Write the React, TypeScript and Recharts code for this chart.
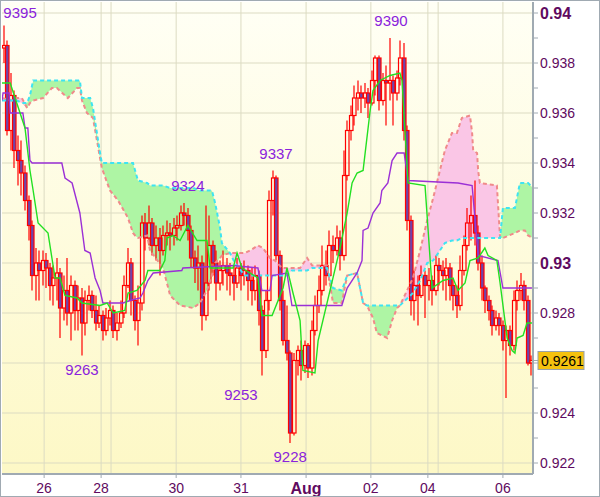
import { ComposedChart, Bar, Line, Area, Scatter, XAxis, YAxis, CartesianGrid } from 'recharts';

// hourly candles, prices in pips (9395 = 0.9395): [open, high, low, close]
const ohlc: number[][] = [
  [9386, 9395, 9380, 9387], [9387, 9389, 9351, 9353], [9353, 9376, 9345, 9367], [9367, 9369, 9338, 9345],
  [9345, 9351, 9331, 9341], [9341, 9349, 9327, 9336], [9336, 9339, 9321, 9325], [9325, 9327, 9309, 9315],
  [9315, 9317, 9289, 9295], [9295, 9306, 9285, 9300], [9300, 9305, 9285, 9297], [9297, 9305, 9291, 9301],
  [9301, 9304, 9290, 9298], [9298, 9300, 9285, 9291], [9291, 9299, 9283, 9294], [9294, 9302, 9285, 9296],
  [9296, 9298, 9270, 9282], [9282, 9295, 9277, 9289], [9289, 9302, 9275, 9280], [9280, 9295, 9269, 9291],
  [9291, 9293, 9273, 9281], [9281, 9291, 9273, 9286], [9286, 9290, 9263, 9276], [9276, 9289, 9271, 9285],
  [9285, 9291, 9281, 9287], [9287, 9289, 9278, 9281], [9281, 9287, 9273, 9276], [9276, 9283, 9274, 9279],
  [9279, 9281, 9269, 9273], [9273, 9282, 9271, 9278], [9278, 9285, 9275, 9281], [9281, 9283, 9270, 9273],
  [9273, 9280, 9269, 9276], [9276, 9285, 9274, 9280], [9280, 9295, 9278, 9291], [9291, 9306, 9290, 9300],
  [9300, 9302, 9279, 9285], [9285, 9287, 9273, 9277], [9277, 9291, 9267, 9284], [9284, 9319, 9281, 9316],
  [9316, 9320, 9305, 9310], [9310, 9323, 9307, 9316], [9316, 9318, 9303, 9307], [9307, 9315, 9301, 9310],
  [9310, 9314, 9295, 9305], [9305, 9315, 9303, 9311], [9311, 9317, 9307, 9312], [9312, 9316, 9305, 9311],
  [9311, 9318, 9307, 9314], [9314, 9319, 9309, 9315], [9315, 9323, 9313, 9320], [9320, 9324, 9315, 9319],
  [9319, 9322, 9309, 9313], [9313, 9315, 9298, 9302], [9302, 9305, 9292, 9298], [9298, 9307, 9289, 9300],
  [9300, 9303, 9273, 9279], [9279, 9323, 9277, 9292], [9292, 9319, 9289, 9307], [9307, 9309, 9295, 9300],
  [9300, 9305, 9285, 9292], [9292, 9301, 9289, 9297], [9297, 9305, 9291, 9299], [9299, 9302, 9289, 9296],
  [9296, 9300, 9287, 9295], [9295, 9299, 9285, 9292], [9292, 9302, 9290, 9298], [9298, 9300, 9289, 9295],
  [9295, 9301, 9291, 9297], [9297, 9299, 9285, 9293], [9293, 9298, 9283, 9289], [9289, 9299, 9285, 9295],
  [9295, 9297, 9275, 9281], [9281, 9283, 9255, 9265], [9265, 9289, 9262, 9285], [9285, 9329, 9281, 9325],
  [9325, 9337, 9319, 9334], [9334, 9335, 9301, 9303], [9303, 9305, 9281, 9285], [9285, 9289, 9267, 9269],
  [9269, 9283, 9261, 9264], [9264, 9265, 9228, 9232], [9232, 9264, 9231, 9261], [9261, 9267, 9255, 9265],
  [9265, 9269, 9253, 9259], [9259, 9269, 9256, 9267], [9267, 9268, 9254, 9258], [9258, 9277, 9255, 9273],
  [9273, 9287, 9271, 9283], [9283, 9295, 9280, 9289], [9289, 9307, 9287, 9299], [9299, 9305, 9291, 9295],
  [9295, 9313, 9293, 9307], [9307, 9311, 9300, 9305], [9305, 9315, 9303, 9310], [9310, 9313, 9297, 9303],
  [9303, 9345, 9301, 9335], [9335, 9357, 9333, 9353], [9353, 9363, 9349, 9359], [9359, 9371, 9355, 9366],
  [9366, 9373, 9361, 9368], [9368, 9371, 9360, 9366], [9366, 9372, 9362, 9368], [9368, 9370, 9358, 9364],
  [9364, 9377, 9363, 9373], [9373, 9383, 9367, 9382], [9382, 9383, 9361, 9365], [9365, 9376, 9363, 9373],
  [9373, 9379, 9355, 9372], [9372, 9390, 9365, 9373], [9373, 9375, 9355, 9368], [9368, 9377, 9365, 9374],
  [9374, 9389, 9371, 9382], [9382, 9388, 9349, 9353], [9353, 9355, 9313, 9317], [9317, 9319, 9279, 9285],
  [9285, 9297, 9277, 9291], [9291, 9295, 9275, 9287], [9287, 9299, 9286, 9295], [9295, 9297, 9278, 9291],
  [9291, 9298, 9285, 9293], [9293, 9295, 9283, 9289], [9289, 9303, 9287, 9299], [9299, 9302, 9291, 9297],
  [9297, 9301, 9289, 9295], [9295, 9302, 9285, 9298], [9298, 9300, 9285, 9291], [9291, 9294, 9281, 9287],
  [9287, 9291, 9278, 9283], [9283, 9303, 9281, 9297], [9297, 9311, 9295, 9307], [9307, 9322, 9305, 9316],
  [9316, 9327, 9309, 9319], [9319, 9333, 9307, 9312], [9312, 9315, 9297, 9300], [9300, 9303, 9285, 9290],
  [9290, 9291, 9280, 9285], [9285, 9287, 9277, 9281], [9281, 9283, 9271, 9275], [9275, 9281, 9273, 9278],
  [9278, 9280, 9271, 9275], [9275, 9277, 9265, 9269], [9269, 9275, 9246, 9273], [9273, 9275, 9263, 9267],
  [9267, 9289, 9265, 9285], [9285, 9293, 9281, 9289], [9289, 9296, 9285, 9291], [9291, 9293, 9281, 9285],
  [9285, 9287, 9259, 9260], [9260, 9263, 9255, 9261],
];

// tenkan-sen / kijun-sen as [bar position, pips]
const tenkan: number[][] = [
  [-0.5, 9372], [1.8, 9372], [6.0, 9354], [7.4, 9337], [8.3, 9329], [9.7, 9316], [12.5, 9312], [13.6, 9302],
  [14.5, 9294], [15.9, 9294], [17.3, 9287], [20.7, 9286], [22.1, 9284], [27.2, 9283], [29.2, 9284], [30.9, 9280],
  [34.2, 9281], [35.1, 9288], [37.6, 9289], [39.9, 9293], [40.7, 9297], [44.1, 9297], [45.5, 9301], [46.1, 9310],
  [47.8, 9311], [49.8, 9309], [52.0, 9315], [54.6, 9309], [57.4, 9309], [58.3, 9298], [64.8, 9298], [65.9, 9304],
  [67.3, 9298], [71.8, 9294], [72.9, 9279], [75.8, 9279], [78.9, 9290], [80.0, 9298], [81.7, 9288], [83.7, 9277],
  [84.5, 9257], [87.9, 9256], [88.8, 9269], [95.0, 9306], [97.0, 9320], [98.4, 9332], [99.8, 9336], [101.5, 9337],
  [103.5, 9361], [104.3, 9369], [106.3, 9373], [109.1, 9375], [111.9, 9376], [112.5, 9373], [114.2, 9332],
  [119.0, 9331], [121.0, 9290], [124.1, 9293], [126.9, 9294], [128.3, 9289], [130.3, 9292], [131.7, 9301],
  [134.0, 9302], [135.9, 9306], [136.8, 9303], [139.3, 9301], [140.2, 9292], [142.2, 9270], [143.6, 9265],
  [144.4, 9264], [145.0, 9270], [146.7, 9271], [147.8, 9276], [149.2, 9276],
];

const kijun: number[][] = [
  [-0.5, 9365], [-0.2, 9368], [1.5, 9368], [1.8, 9360], [5.4, 9360], [6.0, 9354], [6.8, 9354], [7.4, 9341],
  [8.0, 9340], [16.4, 9340], [17.3, 9334], [19.3, 9332], [21.5, 9320], [22.9, 9305], [24.4, 9304], [25.8, 9294],
  [27.2, 9289], [28.0, 9284], [33.7, 9284], [35.7, 9285], [38.5, 9286], [39.3, 9288], [40.7, 9293], [42.2, 9296],
  [50.3, 9297], [50.6, 9298], [64.8, 9299], [71.8, 9298], [72.9, 9289], [75.2, 9289], [75.8, 9295], [80.0, 9296],
  [81.4, 9283], [95.5, 9283], [97.0, 9290], [99.8, 9296], [101.2, 9301], [101.5, 9313], [102.9, 9314],
  [104.3, 9320], [106.3, 9324], [106.8, 9329], [108.5, 9332], [109.7, 9341], [111.1, 9344], [113.1, 9344],
  [114.2, 9333], [128.3, 9332], [132.3, 9331], [134.0, 9303], [139.6, 9301], [141.0, 9290], [149.2, 9290],
];

// senkou span A / B, sampled at the same positions
const cloudX = [
  -0.5, 2.3, 3.7, 5.1, 6.6, 7.4, 8.3, 11.1, 13.6, 15.0, 18.1, 20.7, 21.5, 22.1, 23.5, 24.4, 25.2, 27.2, 27.7,
  30.0, 32.3, 35.1, 36.5, 37.1, 37.9, 40.5, 41.3, 45.0, 47.0, 49.8, 53.5, 55.4, 57.4, 58.8, 59.7, 61.1, 61.6,
  63.9, 65.3, 68.1, 69.6, 71.8, 73.2, 75.2, 76.6, 78.6, 80.0, 81.4, 83.7, 85.7, 87.1, 91.3, 93.0, 95.5, 97.0,
  99.8, 101.5, 102.6, 104.3, 105.4, 108.3, 109.7, 111.1, 111.9, 115.6, 117.6, 119.6, 121.3, 123.2, 124.6,
  126.6, 128.0, 129.4, 131.7, 132.3, 132.6, 133.7, 134.0, 134.5, 139.3, 140.2, 141.0, 144.4, 145.8, 147.2,
  148.1, 149.5,
];
const spanA = [
  9365, 9365, 9365, 9364, 9364, 9367, 9373, 9373, 9373, 9373, 9373, 9373, 9373, 9366, 9366, 9366, 9362, 9344, 9340,
  9340, 9340, 9340, 9340, 9337, 9333, 9332, 9331, 9331, 9330, 9330, 9330, 9329, 9329, 9329, 9324, 9314, 9308,
  9304, 9300, 9295, 9295, 9295, 9295, 9295, 9295, 9295, 9295, 9297, 9297, 9297, 9298, 9298, 9290, 9289, 9295,
  9296, 9284, 9283, 9283, 9283, 9283, 9283, 9283, 9283, 9288, 9293, 9300, 9301, 9305, 9308,
  9309, 9309, 9310, 9310, 9310, 9310, 9310, 9310, 9310, 9310, 9310, 9322, 9322, 9332, 9332,
  9332, 9330,
];
const spanB = [
  9366, 9365, 9366, 9366, 9362, 9364, 9365, 9366, 9370, 9370, 9366, 9370, 9370, 9365, 9360, 9359, 9358, 9342, 9338,
  9329, 9325, 9318, 9312, 9311, 9310, 9311, 9305, 9298, 9287, 9283, 9282, 9284, 9289, 9295, 9300, 9302, 9303,
  9304, 9304, 9304, 9305, 9307, 9306, 9302, 9301, 9298, 9298, 9298, 9298, 9302, 9299, 9299, 9284, 9284, 9295,
  9296, 9284, 9283, 9278, 9272, 9270, 9277, 9282, 9283, 9294, 9305, 9317, 9326, 9337, 9345,
  9352, 9352, 9358, 9359, 9352, 9345, 9344, 9337, 9332, 9331, 9310, 9310, 9312, 9313, 9313,
  9311, 9310,
];

const dayTicks = [11.4, 27.5, 48.7, 67.0, 85.4, 103.7, 119.8, 141.0];
const dayLabels = ['26', '28', '30', '31', 'Aug', '02', '04', '06'];
const weekLines = [30.3, 122.7];

const priceTicks = [0.922, 0.924, 0.926, 0.928, 0.93, 0.932, 0.934, 0.936, 0.938, 0.94];
const minorTicks = [0.923, 0.925, 0.927, 0.929, 0.931, 0.933, 0.935, 0.937, 0.939];
const lastClose = 0.9261;

// swing labels: [bar position, pips]
const highMarks = [[4.6, 9395], [52.0, 9324], [76.9, 9337], [109.4, 9390]];
const lowMarks = [[22.1, 9263], [67.0, 9253], [80.9, 9228]];

const FONT = '"Liberation Sans", Arial, sans-serif';
const AXIS_TEXT = '#600a60';
const AXIS_LINE = '#a0aab2';

const toPrice = (p: number) => p / 10000;

const candles = ohlc.map(([o, h, l, c], i) => ({
  x: i,
  o: toPrice(o),
  h: toPrice(h),
  l: toPrice(l),
  c: toPrice(c),
  range: [toPrice(l), toPrice(h)],
}));

const cloud = cloudX.map((x, k) => {
  const a = toPrice(spanA[k]);
  const b = toPrice(spanB[k]);
  return { x, a, b, bull: a >= b ? [b, a] : [a, a], bear: b > a ? [a, b] : [b, b] };
});

const tenkanData = tenkan.map(([x, p]) => ({ x, v: toPrice(p) }));
const kijunData = kijun.map(([x, p]) => ({ x, v: toPrice(p) }));
const highData = highMarks.map(([x, p]) => ({ x, y: toPrice(p), side: 'high', text: String(p) }));
const lowData = lowMarks.map(([x, p]) => ({ x, y: toPrice(p), side: 'low', text: String(p) }));

function Candle(props: any) {
  const { x, y, width, height, payload } = props;
  if (!payload || y == null || height == null) return null;
  const top = Math.min(y, y + height);
  const h = Math.abs(height);
  const span = payload.h - payload.l;
  const k = span > 0 ? h / span : 0;
  const left = Math.round(x + width / 2) - 2;
  const wx = left + 2;
  const yo = top + (payload.h - payload.o) * k;
  const yc = top + (payload.h - payload.c) * k;
  const bTop = Math.min(yo, yc);
  const bBot = Math.max(yo, yc, bTop + 1);
  const bear = payload.c < payload.o;
  return (
    <g>
      <line x1={wx} x2={wx} y1={top} y2={bTop} stroke="#ff0000" strokeWidth={1.2} />
      <line x1={wx} x2={wx} y1={bBot} y2={top + h} stroke="#ff0000" strokeWidth={1.2} />
      <rect
        x={left + 0.5}
        y={bTop}
        width={3.5}
        height={bBot - bTop}
        fill={bear ? '#7044a8' : 'none'}
        stroke="#ff0000"
        strokeWidth={1.2}
      />
    </g>
  );
}

function SwingLabel(props: any) {
  const { cx, cy, payload } = props;
  if (cx == null || cy == null) return null;
  const ty = payload.side === 'high' ? Math.max(cy - 17, 13) : cy + 14;
  return (
    <text x={cx} y={ty} dy="0.35em" textAnchor="middle" fontSize={15} fontFamily={FONT} fill="#8a22dc">
      {payload.text}
    </text>
  );
}

function PriceTick(props: any) {
  const { x, y, payload } = props;
  const v = payload.value;
  if (v === lastClose) {
    return (
      <g>
        <rect x={x - 2} y={y - 9} width={46} height={18} fill="#f5c20f" stroke="#98a2aa" strokeWidth={1} />
        <text x={x + 1} y={y} dy="0.36em" fontSize={14} fontFamily={FONT} fill="#000">
          {lastClose.toFixed(4)}
        </text>
      </g>
    );
  }
  const m = Math.round(v * 1000);
  if (m % 2 !== 0) return null;
  // the last-price tag covers the nearby grid label
  if (Math.abs(v - lastClose) < 0.0004) return null;
  const bold = m % 10 === 0;
  return (
    <text
      x={x}
      y={y}
      dy="0.36em"
      textAnchor="start"
      fontSize={bold ? 16 : 14}
      fontWeight={bold ? 'bold' : 'normal'}
      fontFamily={FONT}
      fill={AXIS_TEXT}
    >
      {bold ? v.toFixed(2) : v.toFixed(3)}
    </text>
  );
}

function DayTick(props: any) {
  const { x, y, payload } = props;
  const label = dayLabels[dayTicks.indexOf(payload.value)];
  const bold = label === 'Aug';
  return (
    <text
      x={x}
      y={y}
      dy="0.71em"
      textAnchor="middle"
      fontSize={bold ? 16 : 14}
      fontWeight={bold ? 'bold' : 'normal'}
      fontFamily={FONT}
      fill={AXIS_TEXT}
    >
      {label}
    </text>
  );
}

export default function App() {
  return (
    <div style={{ position: 'absolute', left: 0, top: 0, width: 600, height: 497, background: '#fff' }}>
      <ComposedChart width={600} height={497} data={candles} margin={{ top: 2, right: 0, bottom: 0, left: 2 }}>
        <defs>
          <linearGradient id="plotBg" x1="0" y1="0" x2="0" y2="1">
            <stop offset="0%" stopColor="#fffff5" />
            <stop offset="100%" stopColor="#fdf8c6" />
          </linearGradient>
        </defs>
        <CartesianGrid
          fill="url(#plotBg)"
          stroke="#dcdbc2"
          horizontalValues={priceTicks}
          verticalValues={[...dayTicks, ...weekLines]}
        />
        <XAxis
          dataKey="x"
          type="number"
          domain={[-0.5, 149.5]}
          allowDataOverflow
          ticks={dayTicks}
          interval={0}
          height={23}
          tickSize={4}
          tickMargin={5}
          tick={<DayTick />}
          tickLine={{ stroke: AXIS_LINE }}
          axisLine={{ stroke: AXIS_LINE, strokeWidth: 2 }}
        />
        <YAxis
          orientation="right"
          type="number"
          domain={[0.92156, 0.94044]}
          allowDataOverflow
          ticks={[...priceTicks, ...minorTicks, lastClose]}
          interval={0}
          width={67}
          tickSize={5}
          tickMargin={2}
          tick={<PriceTick />}
          tickLine={{ stroke: AXIS_LINE }}
          axisLine={{ stroke: AXIS_LINE, strokeWidth: 2 }}
        />
        <Area data={cloud} dataKey="bull" type="linear" stroke="none" fill="#aef5a4" fillOpacity={1} isAnimationActive={false} />
        <Area data={cloud} dataKey="bear" type="linear" stroke="none" fill="#fac6e6" fillOpacity={1} isAnimationActive={false} />
        <Line data={cloud} dataKey="b" type="linear" stroke="#f08a8a" strokeWidth={2} strokeDasharray="4 3" dot={false} isAnimationActive={false} />
        <Line data={cloud} dataKey="a" type="linear" stroke="#3ee4f2" strokeWidth={2} strokeDasharray="4 3" dot={false} isAnimationActive={false} />
        <Bar dataKey="range" barSize={4} shape={<Candle />} isAnimationActive={false} />
        <Line data={kijunData} dataKey="v" type="linear" stroke="#9b30d6" strokeWidth={1.4} dot={false} isAnimationActive={false} />
        <Line data={tenkanData} dataKey="v" type="linear" stroke="#22e022" strokeWidth={1.4} dot={false} isAnimationActive={false} />
        <Scatter data={highData} dataKey="y" shape={<SwingLabel />} isAnimationActive={false} />
        <Scatter data={lowData} dataKey="y" shape={<SwingLabel />} isAnimationActive={false} />
      </ComposedChart>
      <div
        style={{
          position: 'absolute',
          left: 0,
          top: 0,
          width: 600,
          height: 497,
          boxSizing: 'border-box',
          border: `1px solid ${AXIS_LINE}`,
          pointerEvents: 'none',
        }}
      />
    </div>
  );
}
